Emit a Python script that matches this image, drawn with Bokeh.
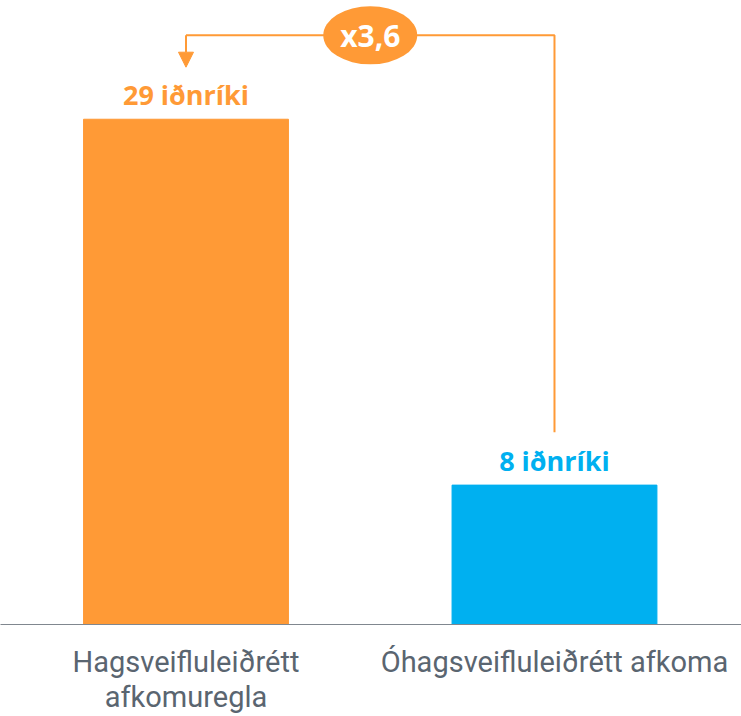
from bokeh.plotting import figure
from bokeh.models import Range1d, FixedTicker, Arrow, NormalHead, ColumnDataSource
from bokeh.core.properties import value
from bokeh.embed import file_html
from bokeh.resources import INLINE

# ---- data ----
categories = ["Hagsveifluleiðrétt afkomuregla", "Óhagsveifluleiðrétt afkoma"]
tick_labels = ["Hagsveifluleiðrétt\nafkomuregla", "Óhagsveifluleiðrétt afkoma"]
counts = [29, 8]
bar_labels = ["29 iðnríki", "8 iðnríki"]
colors = ["#FF9A36", "#00B0F0"]

ORANGE = "#FF9A36"
positions = [i + 0.5 for i in range(len(categories))]
ratio = counts[0] / counts[1]
ratio_label = "x" + f"{ratio:.1f}".replace(".", ",")

ymax = max(counts)
p = figure(width=741, height=716, output_backend="svg", toolbar_location=None,
           x_range=Range1d(-0.0034, 2.0075), y_range=Range1d(0, ymax * 1.235),
           min_border_left=0, min_border_right=0, min_border_top=0, min_border_bottom=90)
p.outline_line_color = None
p.xgrid.visible = False
p.ygrid.visible = False
p.yaxis.visible = False
p.background_fill_color = "white"
p.border_fill_color = "white"

src = ColumnDataSource(dict(x=positions, top=counts, color=colors, label=bar_labels))
p.vbar(x="x", top="top", bottom=0, width=0.556, color="color", source=src)

p.text(x="x", y="top", text="label", text_color="color", source=src,
       text_font=value("Open Sans"), text_font_style="bold", text_font_size="27px",
       text_align="center", text_baseline="alphabetic", y_offset=-25)

# x axis
ax = p.xaxis[0]
ax.ticker = FixedTicker(ticks=positions)
ax.major_label_overrides = {pos: lab for pos, lab in zip(positions, tick_labels)}
ax.major_tick_line_color = None
ax.minor_tick_line_color = None
ax.axis_line_color = "#80878F"
ax.axis_line_width = 1
ax.major_label_text_font = "Roboto"
ax.major_label_text_font_size = "29px"
ax.major_label_text_line_height = 1.03
ax.major_label_text_color = "#5A6570"
ax.major_label_standoff = 14

# bracket annotation
yb = counts[0] * 1.166
x_left, x_right = positions[0], positions[1]
p.line(x=[x_left, x_right, x_right], y=[yb, yb, counts[1] + 3.04],
       line_color=ORANGE, line_width=2)
p.add_layout(Arrow(end=NormalHead(size=15, fill_color=ORANGE, line_color=ORANGE),
                   x_start=x_left, y_start=yb, x_end=x_left, y_end=counts[0] * 1.103,
                   line_color=ORANGE, line_width=2))
xm = (x_left + x_right) / 2
p.ellipse(x=[xm], y=[yb], width=94, height=58, width_units="screen", height_units="screen",
          fill_color=ORANGE, line_color=None)
p.text(x=[xm], y=[yb], text=[ratio_label], text_color="white",
       text_font=value("Open Sans"), text_font_style="bold", text_font_size="30px",
       text_align="center", text_baseline="middle")

open("out.html", "w").write(file_html(p, INLINE))
